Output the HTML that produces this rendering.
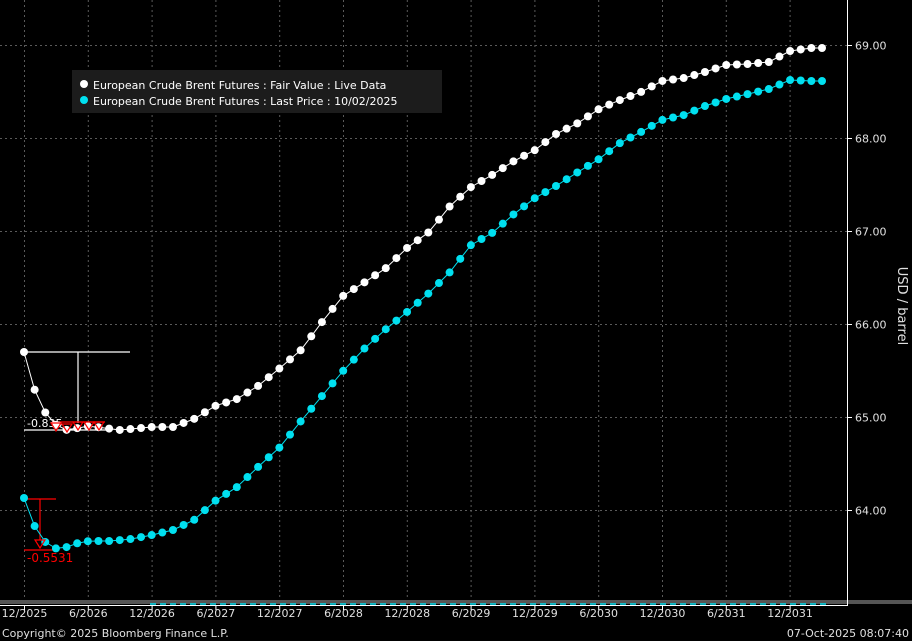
<!DOCTYPE html>
<html><head><meta charset="utf-8"><style>
html,body{margin:0;padding:0;background:#000;width:912px;height:641px;overflow:hidden}
svg{display:block;font-family:"DejaVu Sans",sans-serif}
</style></head><body>
<svg id="s" width="912" height="641" xmlns="http://www.w3.org/2000/svg">
<rect width="912" height="641" fill="#000"/>
<g id="grid" stroke="#5a5a5a" stroke-dasharray="2,3" stroke-width="1"></g>
<rect x="0" y="600" width="912" height="4" fill="#555"/>
<line x1="847.5" y1="0" x2="847.5" y2="606" stroke="#fff"/>
<line x1="0" y1="605.5" x2="848" y2="605.5" stroke="#fff"/>
<line x1="150" y1="604" x2="828" y2="604" stroke="#00e0f0" stroke-dasharray="6,4" stroke-width="1.5"/>
<g id="ylab" fill="#e0e0e0" font-size="11"></g>
<g id="xlab" fill="#e0e0e0" font-size="11"></g>
<text transform="translate(898,306) rotate(90)" fill="#e0e0e0" font-size="13" text-anchor="middle">USD / barrel</text>
<g stroke="#fff" stroke-width="1.2" fill="none">
<line x1="24" y1="352" x2="130" y2="352"/><line x1="78" y1="352" x2="78" y2="423"/>
<line x1="24" y1="430" x2="110" y2="430"/>
</g>
<g stroke="#f00" stroke-width="1.2" fill="none">
<line x1="24" y1="499" x2="56" y2="499"/><line x1="40" y1="499" x2="40" y2="540"/>
<line x1="24" y1="550" x2="56" y2="550"/>
<line x1="52" y1="422" x2="105" y2="422"/>
</g>
<g id="series"></g>
<text x="27" y="427" fill="#fff" font-size="11">-0.835</text>
<g fill="none" stroke="#f00" stroke-width="1.2">
<polygon points="51,423 61,423 56,431"/><polygon points="62,424 72,424 67,432"/><polygon points="73,422 83,422 78,430"/><polygon points="84,422 94,422 89,430"/><polygon points="94,422 104,422 99,430"/>
<polygon points="35,540 45,540 40,548"/>
</g>
<text x="27" y="562" fill="#f00" font-size="12">-0.5531</text>
<rect x="72" y="70" width="370" height="43" fill="#1c1c1c"/>
<circle cx="84" cy="84" r="4" fill="#fff"/><circle cx="84" cy="100" r="4" fill="#00e0f0"/>
<text x="93" y="89" fill="#fff" font-size="11">European Crude Brent Futures : Fair Value : Live Data</text>
<text x="93" y="105" fill="#fff" font-size="11">European Crude Brent Futures : Last Price : 10/02/2025</text>
<text x="2" y="637" fill="#e0e0e0" font-size="11">Copyright© 2025 Bloomberg Finance L.P.</text>
<text x="909" y="637" fill="#e0e0e0" font-size="11" text-anchor="end">07-Oct-2025 08:07:40</text>
</svg>
<script>
var NS="http://www.w3.org/2000/svg";
function el(p,t,a,txt){var e=document.createElementNS(NS,t);for(var k in a)e.setAttribute(k,a[k]);if(txt)e.textContent=txt;document.getElementById(p).appendChild(e);return e;}
var xl=["12/2025","6/2026","12/2026","6/2027","12/2027","6/2028","12/2028","6/2029","12/2029","6/2030","12/2030","6/2031","12/2031"];
for(var i=0;i<13;i++){var x=24.5+i*63.8;el("grid","line",{x1:x,y1:0,x2:x,y2:600});el("xlab","text",{x:x,y:617,"text-anchor":"middle"},xl[i]);el("xlab","line",{x1:x,y1:605,x2:x,y2:610,stroke:"#fff"});}
var yv=["69.00","68.00","67.00","66.00","65.00","64.00"];
for(var j=0;j<6;j++){var y=45.5+j*93;el("grid","line",{x1:0,y1:y,x2:847,y2:y});el("ylab","text",{x:855,y:y+4},yv[j]);el("ylab","line",{x1:847,y1:y,x2:852,y2:y,stroke:"#fff"});}
var W=[[24,352],[35,391],[46,414],[57,426],[67,430],[78,428],[89,426],[120,430],[152,427],[173,427],[194,419],[215,406],[237,399],[258,386],[280,368],[301,350],[322,322],[343,296],[365,282],[386,268],[407,248],[429,232],[450,206],[471,187],[492,175],[514,161],[535,150],[556,134],[578,123],[599,109],[620,100],[641,92],[662,81],[684,78],[705,72],[726,65],[748,64],[769,62],[790,51],[811,48],[823,48]];
var C=[[24,498],[35,527],[46,543],[57,549],[67,547],[78,543],[89,541],[110,541],[131,539],[152,535],[173,530],[194,520],[215,501],[237,487],[258,467],[280,447],[301,421],[322,396],[343,371],[365,348],[386,329],[407,312],[429,293],[450,272],[471,245],[492,233],[514,214],[535,198],[556,186],[578,172],[599,159],[620,143],[641,132],[662,120],[684,115],[705,106],[726,99],[748,94],[769,89],[790,80],[811,81],[823,81]];
function interp(a,x){for(var i=0;i<a.length-1;i++){if(x<=a[i+1][0])return a[i][1]+(a[i+1][1]-a[i][1])*(x-a[i][0])/(a[i+1][0]-a[i][0]);}return a[a.length-1][1];}
function draw(a,col){var pts=[];for(var x=24;x<=824;x+=10.64){pts.push([x,interp(a,x)]);}
el("series","polyline",{points:pts.map(function(p){return p[0].toFixed(1)+","+p[1].toFixed(1)}).join(" "),fill:"none",stroke:col,"stroke-width":1});
pts.forEach(function(p){el("series","circle",{cx:p[0],cy:p[1],r:4,fill:col});});}
draw(W,"#ffffff");draw(C,"#00e0f0");
</script>
</body></html>
